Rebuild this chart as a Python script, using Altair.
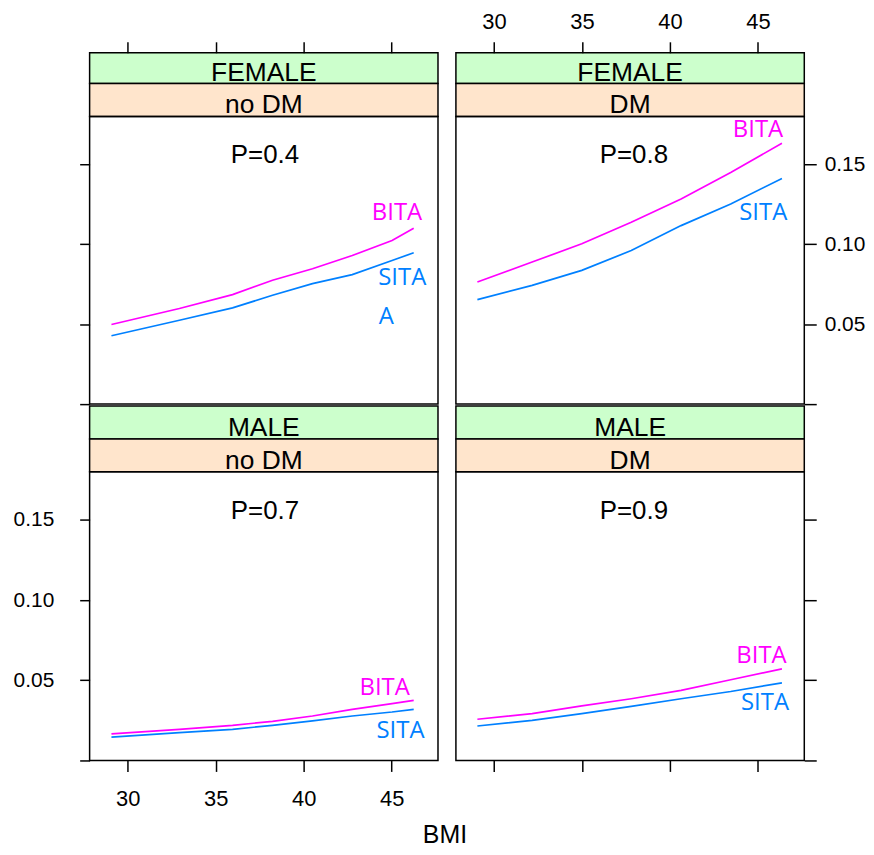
import altair as alt
import pandas as pd

# ---------------- data ----------------
panel_ids = ["TL", "TR", "BL", "BR"]
sex_labels = ["FEMALE", "FEMALE", "MALE", "MALE"]
dm_labels = ["no DM", "DM", "no DM", "DM"]

p_text = ["P=0.4", "P=0.8", "P=0.7", "P=0.9"]
p_bmi = [37.8, 37.95, 37.8, 37.95]
p_risk = [0.156, 0.156, 0.1555, 0.1555]

bmi_left = [29.08, 32.94, 35.96, 38.23, 40.5, 42.76, 45.02, 46.25]
bmi_right = [29.06, 32.17, 34.99, 37.8, 40.63, 43.45, 46.36]

bita_f_nodm = [0.0498, 0.0598, 0.0685, 0.0775, 0.0847, 0.0930, 0.1024, 0.1101]
sita_f_nodm = [0.0428, 0.0525, 0.0602, 0.0681, 0.0754, 0.0810, 0.0899, 0.0947]
bita_f_dm = [0.0764, 0.0889, 0.1003, 0.1138, 0.1283, 0.1450, 0.1632]
sita_f_dm = [0.0654, 0.0743, 0.0837, 0.0961, 0.1117, 0.1252, 0.1412]
bita_m_nodm = [0.0166, 0.0194, 0.0219, 0.0244, 0.0277, 0.0319, 0.0354, 0.0375]
sita_m_nodm = [0.0145, 0.0174, 0.0194, 0.0219, 0.0247, 0.0277, 0.0302, 0.0319]
bita_m_dm = [0.0257, 0.0292, 0.0340, 0.0385, 0.0437, 0.0503, 0.0571]
sita_m_dm = [0.0215, 0.0250, 0.0292, 0.0337, 0.0385, 0.0430, 0.0484]

# curve labels (text, drug colour, panel, position)
lab_panel = ["TL", "TL", "TL", "TR", "TR", "BL", "BL", "BR", "BR"]
lab_text = ["BITA", "SITA", "A", "BITA", "SITA", "BITA", "SITA", "BITA", "SITA"]
lab_drug = ["BITA", "SITA", "SITA", "BITA", "SITA", "BITA", "SITA", "BITA", "SITA"]
lab_bmi = [45.3, 45.6, 44.7, 45.0, 45.3, 44.6, 45.5, 45.2, 45.4]
lab_risk = [0.1196, 0.0791, 0.0542, 0.1715, 0.1196, 0.0453, 0.0184, 0.065, 0.036]

x_ticks = [30, 35, 40, 45]
y_ticks = [0, 0.05, 0.10, 0.15]

# ---------------- style ----------------
W = 350
FONT = "Liberation Sans"
GREEN = "#ccffcc"
ORANGE = "#ffe5cc"
XSCALE = alt.Scale(domain=[27.84, 47.63], nice=False, zero=False)
YSCALE = alt.Scale(domain=[0, 0.18], nice=False, zero=False)
COLOR = alt.Color("drug:N", scale=alt.Scale(domain=["BITA", "SITA"], range=["#ff00ff", "#0080ff"]), legend=None)


def x_axis(orient, labels, pad):
    return alt.Axis(orient=orient, values=x_ticks, labels=labels, title=None, grid=False,
                    domain=False, tickSize=11, tickWidth=1.5, tickColor="black",
                    labelPadding=pad, labelFontSize=22, labelFont=FONT, labelColor="black")


def y_axis(orient, labels, pad, tsize):
    return alt.Axis(orient=orient, values=y_ticks, labels=labels, title=None, grid=False,
                    domain=False, tickSize=tsize, tickWidth=1.5, tickColor="black",
                    labelExpr="datum.value == 0 ? '' : format(datum.value, '.2f')",
                    labelPadding=pad, labelFontSize=21, labelFont=FONT, labelColor="black")


def strip(text, fill, h, axis=None):
    t = alt.Chart(pd.DataFrame({"t": [text]})).mark_text(
        font=FONT, fontSize=26.5, baseline="alphabetic", align="center", color="black"
    ).encode(x=alt.value(W / 2), y=alt.value(h - 3), text="t:N")
    if axis is not None:
        ax = alt.Chart(pd.DataFrame({"bmi": x_ticks})).mark_point(opacity=0).encode(
            x=alt.X("bmi:Q", scale=XSCALE, axis=axis))
        ch = alt.layer(ax, t)
    else:
        ch = alt.layer(t)
    return ch.properties(width=W, height=h,
                         view=alt.ViewBackground(fill=fill, stroke="black", strokeWidth=1.5))


def data_panel(pid, bmi, bita, sita, xa, ya, h):
    df = pd.DataFrame({"bmi": bmi + bmi, "risk": bita + sita,
                       "drug": ["BITA"] * len(bmi) + ["SITA"] * len(bmi)})
    ldf = pd.DataFrame({"panel": lab_panel, "text": lab_text, "drug": lab_drug,
                        "bmi": lab_bmi, "risk": lab_risk})
    ldf = ldf[ldf["panel"] == pid]
    k = panel_ids.index(pid)
    pdf = pd.DataFrame({"text": [p_text[k]], "bmi": [p_bmi[k]], "risk": [p_risk[k]]})

    X = alt.X("bmi:Q", scale=XSCALE, axis=xa)
    Y = alt.Y("risk:Q", scale=YSCALE, axis=ya)
    lines = alt.Chart(df).mark_line(strokeWidth=1.7).encode(x=X, y=Y, color=COLOR, detail="drug:N")
    labels = alt.Chart(ldf).mark_text(font="Open Sans", fontSize=24, baseline="middle").encode(
        x=X, y=Y, text="text:N", color=COLOR)
    ptxt = alt.Chart(pdf).mark_text(font=FONT, fontSize=26, baseline="middle", color="black").encode(
        x=X, y=Y, text="text:N")
    return alt.layer(lines, labels, ptxt).properties(width=W, height=h)


def column(strips, panel):
    return alt.vconcat(*strips, panel, spacing=0, bounds="flush")


TL = column([strip(sex_labels[0], GREEN, 31, x_axis("top", False, 8)),
             strip(dm_labels[0], ORANGE, 33)],
            data_panel("TL", bmi_left, bita_f_nodm, sita_f_nodm, None, y_axis("left", False, 26, 10), 289))
TR = column([strip(sex_labels[1], GREEN, 31, x_axis("top", True, 8)),
             strip(dm_labels[1], ORANGE, 33)],
            data_panel("TR", bmi_right, bita_f_dm, sita_f_dm, None, y_axis("right", True, 8, 12), 289))
BL = column([strip(sex_labels[2], GREEN, 33),
             strip(dm_labels[2], ORANGE, 33)],
            data_panel("BL", bmi_left, bita_m_nodm, sita_m_nodm, x_axis("bottom", True, 17),
                       y_axis("left", True, 26, 10), 290))
BR = column([strip(sex_labels[3], GREEN, 33),
             strip(dm_labels[3], ORANGE, 33)],
            data_panel("BR", bmi_right, bita_m_dm, sita_m_dm, x_axis("bottom", False, 17),
                       y_axis("right", False, 8, 12), 290))

chart = alt.concat(TL, TR, BL, BR, columns=2, spacing={"row": -2, "column": 16}).properties(
    title=alt.TitleParams("BMI", orient="bottom", anchor="middle", fontSize=25, font=FONT,
                          fontWeight="normal", color="black", offset=13, dx=6),
    padding={"left": 4, "top": 0, "right": 0, "bottom": 0},
    background="white",
).configure_view(stroke="black", strokeWidth=1.5)

chart.save("out.html", embed_options={"renderer": "svg", "actions": False})
